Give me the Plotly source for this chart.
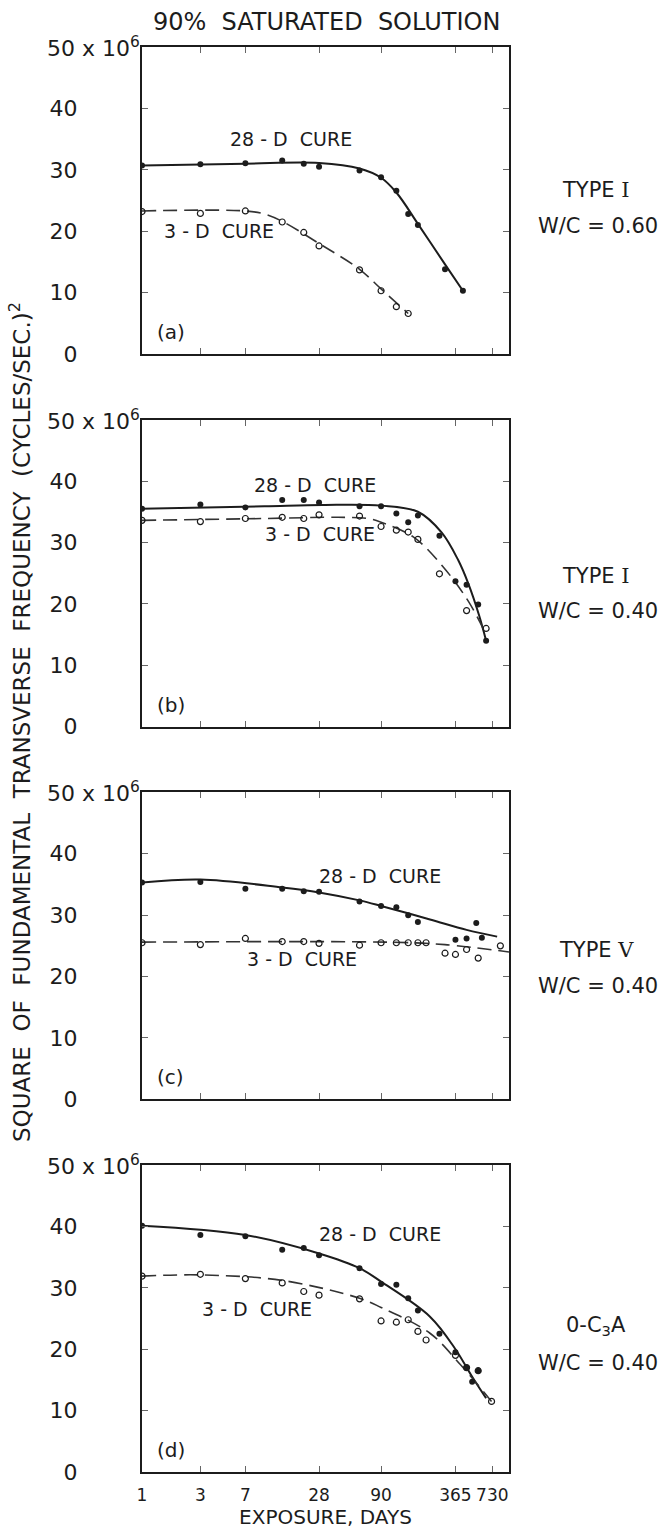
import plotly.graph_objects as go

# ---------------- data ----------------
# panel (a) TYPE I, W/C = 0.60
days_a28 = [1, 3, 7, 14, 21, 28, 60, 90, 120, 150, 180, 300, 420]
vals_a28 = [30.7, 30.9, 31.05, 31.5, 31.0, 30.5, 29.9, 28.8, 26.6, 22.8, 21.0, 13.8, 10.3]
fit_a28_x = [1, 7, 28, 60, 90, 120, 180, 300, 420]
fit_a28_y = [30.7, 31.0, 31.1, 30.2, 28.7, 26.3, 21.2, 14.6, 10.3]
days_a3 = [1, 3, 7, 14, 21, 28, 60, 90, 120, 150]
vals_a3 = [23.2, 22.9, 23.3, 21.5, 19.8, 17.6, 13.7, 10.3, 7.7, 6.6]
fit_a3_x = [1, 7, 10, 14, 28, 60, 90, 150]
fit_a3_y = [23.3, 23.3, 22.8, 21.6, 18.0, 13.8, 10.6, 6.6]

# panel (b) TYPE I, W/C = 0.40
days_b28 = [1, 3, 7, 14, 21, 28, 60, 90, 120, 150, 180, 270, 365, 450, 560, 650]
vals_b28 = [35.5, 36.2, 35.7, 36.9, 36.9, 36.5, 35.9, 35.9, 34.7, 33.3, 34.4, 31.1, 23.7, 23.1, 19.9, 14.0]
fit_b28_x = [1, 10, 30, 90, 180, 282, 385, 465, 570, 650]
fit_b28_y = [35.5, 35.9, 36.1, 36.0, 35.0, 31.6, 27.1, 23.3, 18.1, 14.0]
days_b3 = [1, 3, 7, 14, 21, 28, 60, 90, 120, 150, 180, 270, 450, 650]
vals_b3 = [33.6, 33.4, 33.9, 34.1, 33.9, 34.5, 34.3, 32.6, 32.0, 31.7, 30.5, 24.9, 18.9, 16.0]
fit_b3_x = [1, 10, 40, 70, 90, 165, 282, 466, 650]
fit_b3_y = [33.6, 33.9, 34.1, 33.9, 33.3, 30.9, 26.3, 20.4, 15.0]

# panel (c) TYPE V, W/C = 0.40
days_c28 = [1, 3, 7, 14, 21, 28, 60, 90, 120, 150, 180, 365, 450, 540, 600]
vals_c28 = [35.3, 35.4, 34.3, 34.3, 33.9, 33.8, 32.2, 31.5, 31.3, 30.0, 28.9, 26.0, 26.2, 28.7, 26.3]
fit_c28_x = [1, 3, 14, 28, 60, 90, 226, 450, 800]
fit_c28_y = [35.3, 35.8, 34.5, 33.7, 32.4, 31.5, 29.3, 27.6, 26.5]
days_c3 = [1, 3, 7, 14, 21, 28, 60, 90, 120, 150, 180, 210, 300, 365, 450, 560, 850]
vals_c3 = [25.5, 25.2, 26.2, 25.7, 25.7, 25.4, 25.1, 25.5, 25.5, 25.5, 25.5, 25.5, 23.8, 23.6, 24.4, 23.0, 25.0]
fit_c3_x = [1, 100, 300, 1000]
fit_c3_y = [25.6, 25.6, 25.2, 24.0]

# panel (d) 0-C3A, W/C = 0.40
days_d28 = [1, 3, 7, 14, 21, 28, 60, 90, 120, 150, 180, 270, 365, 450, 500, 560]
vals_d28 = [40.1, 38.6, 38.4, 36.2, 36.5, 35.3, 33.2, 30.6, 30.5, 28.3, 26.3, 22.5, 19.5, 17.0, 14.7, 16.5]
fit_d28_x = [1, 7, 28, 60, 90, 226, 365, 500, 650]
fit_d28_y = [40.1, 38.6, 35.6, 33.2, 31.0, 25.3, 20.0, 15.5, 12.0]
days_d3 = [1, 3, 7, 14, 21, 28, 60, 90, 120, 150, 180, 210, 365, 450, 560, 720]
vals_d3 = [31.9, 32.2, 31.5, 30.8, 29.4, 28.8, 28.2, 24.6, 24.4, 24.8, 22.9, 21.5, 19.0, 17.0, 16.5, 11.5]
fit_d3_x = [1, 3, 14, 60, 90, 226, 400, 720]
fit_d3_y = [31.9, 32.1, 31.2, 28.3, 26.8, 22.6, 17.5, 11.5]

x_tick_vals = [1, 3, 7, 28, 90, 365, 730]
x_tick_text = ["1", "3", "7", "28", "90", "365", "730"]
y_tick_vals = [0, 10, 20, 30, 40]
y_tick_text = ["0", "10", "20", "30", "40"]

panel_letters = ["(a)", "(b)", "(c)", "(d)"]
type_labels = ["TYPE <span style='font-family:DejaVu Serif'>I</span>",
               "TYPE <span style='font-family:DejaVu Serif'>I</span>",
               "TYPE <span style='font-family:DejaVu Serif'>V</span>",
               "0-C<sub>3</sub>A"]
wc_labels = ["W/C = 0.60", "W/C = 0.40", "W/C = 0.40", "W/C = 0.40"]

panels = [
    (days_a28, vals_a28, fit_a28_x, fit_a28_y, days_a3, vals_a3, fit_a3_x, fit_a3_y),
    (days_b28, vals_b28, fit_b28_x, fit_b28_y, days_b3, vals_b3, fit_b3_x, fit_b3_y),
    (days_c28, vals_c28, fit_c28_x, fit_c28_y, days_c3, vals_c3, fit_c3_x, fit_c3_y),
    (days_d28, vals_d28, fit_d28_x, fit_d28_y, days_d3, vals_d3, fit_d3_x, fit_d3_y),
]

# ---------------- layout geometry ----------------
W, H = 671, 1535
L, R, T, B = 142, 162, 47, 63
PW = W - L - R
PH_TOT = H - T - B
PANEL_H = 307
PERIOD = (PH_TOT - PANEL_H) / 3

# label positions (x as fraction of panel width, y in data units)
lbl28 = [(0.406, 35.0), (0.471, 39.4), (0.649, 36.4), (0.649, 38.8)]
lbl3 = [(0.210, 20.0), (0.485, 31.4), (0.436, 22.8), (0.313, 26.6)]
type_y = [26.7, 24.6, 24.3, 23.8]
wc_y = [20.9, 18.8, 18.5, 17.8]

INK = "#1c1c1c"
FONT = "DejaVu Sans"

fig = go.Figure()
layout = dict(
    width=W, height=H,
    margin=dict(l=L, r=R, t=T, b=B),
    paper_bgcolor="white", plot_bgcolor="white",
    showlegend=False,
    font=dict(family=FONT, color=INK, size=20),
)
annotations = []

for i, (d28, v28, f28x, f28y, d3, v3, f3x, f3y) in enumerate(panels):
    n = "" if i == 0 else str(i + 1)
    xa, ya = "x" + n, "y" + n
    top_px = i * PERIOD
    bot_px = top_px + PANEL_H
    dom = [1 - bot_px / PH_TOT, 1 - top_px / PH_TOT]

    # fitted curves
    fig.add_trace(go.Scatter(x=f28x, y=f28y, mode="lines",
                             line=dict(color=INK, width=2, shape="spline", smoothing=1.0),
                             xaxis=xa, yaxis=ya, hoverinfo="skip"))
    fig.add_trace(go.Scatter(x=f3x, y=f3y, mode="lines",
                             line=dict(color="#333333", width=1.6, dash="14px,7px", shape="spline", smoothing=1.0),
                             xaxis=xa, yaxis=ya, hoverinfo="skip"))
    # measured points
    fig.add_trace(go.Scatter(x=d28, y=v28, mode="markers",
                             marker=dict(symbol="circle", size=6, color=INK),
                             xaxis=xa, yaxis=ya, name="28-D CURE"))
    fig.add_trace(go.Scatter(x=d3, y=v3, mode="markers",
                             marker=dict(symbol="circle-open", size=6, color=INK, line=dict(width=1.2)),
                             xaxis=xa, yaxis=ya, name="3-D CURE"))

    xdict = dict(
        type="log", range=[0, 3], domain=[0, 1], anchor=ya,
        tickmode="array", tickvals=x_tick_vals, ticktext=x_tick_text, tickangle=0,
        showticklabels=(i == 3), ticks="inside", ticklen=6, tickwidth=1, tickcolor="#666",
        showline=True, linecolor=INK, linewidth=2, mirror="ticks",
        showgrid=False, zeroline=False,
        tickfont=dict(size=17, family=FONT, color=INK),
        ticklabelstandoff=7,
    )
    if i == 3:
        xdict["title"] = dict(text="EXPOSURE, DAYS", font=dict(size=20, family=FONT, color=INK), standoff=3)
    layout["xaxis" + n] = xdict
    layout["yaxis" + n] = dict(
        range=[0, 50], domain=dom, anchor=xa,
        tickmode="array", tickvals=y_tick_vals, ticktext=y_tick_text,
        ticks="inside", ticklen=6, tickwidth=1, tickcolor="#666",
        showline=True, linecolor=INK, linewidth=2, mirror="ticks",
        showgrid=False, zeroline=False,
        tickfont=dict(size=22, family=FONT, color=INK),
        ticklabelstandoff=58,
    )

    # 50 x 10^6 label
    annotations.append(dict(text="50 x 10<sup>6</sup>", xref="paper", yref=ya, x=(45 - L) / PW, y=50,
                            xanchor="left", yanchor="middle", showarrow=False,
                            font=dict(size=22, family=FONT, color=INK)))
    # panel letter
    annotations.append(dict(text=panel_letters[i], xref=xa + " domain", yref=ya, x=0.079, y=3.6,
                            xanchor="center", yanchor="middle", showarrow=False,
                            font=dict(size=20, family=FONT, color=INK)))
    # curve labels
    annotations.append(dict(text="28 - D  CURE", xref=xa + " domain", yref=ya, x=lbl28[i][0], y=lbl28[i][1],
                            xanchor="center", yanchor="middle", showarrow=False,
                            font=dict(size=19, family=FONT, color=INK)))
    annotations.append(dict(text="3 - D  CURE", xref=xa + " domain", yref=ya, x=lbl3[i][0], y=lbl3[i][1],
                            xanchor="center", yanchor="middle", showarrow=False,
                            font=dict(size=19, family=FONT, color=INK)))
    # right-hand labels
    annotations.append(dict(text=type_labels[i], xref="paper", yref=ya, x=(596 - L) / PW, y=type_y[i],
                            xanchor="center", yanchor="middle", showarrow=False,
                            font=dict(size=21, family=FONT, color=INK)))
    annotations.append(dict(text=wc_labels[i], xref="paper", yref=ya, x=(598 - L) / PW, y=wc_y[i],
                            xanchor="center", yanchor="middle", showarrow=False,
                            font=dict(size=21, family=FONT, color=INK)))

# title and y-axis title
annotations.append(dict(text="90%  SATURATED  SOLUTION", xref="paper", yref="paper",
                        x=(326 - L) / PW, y=1 + (T - 22) / PH_TOT, xanchor="center", yanchor="middle",
                        showarrow=False, font=dict(size=24, family=FONT, color=INK)))
annotations.append(dict(text="SQUARE  OF  FUNDAMENTAL  TRANSVERSE  FREQUENCY  (CYCLES/SEC.)<sup>2</sup>",
                        xref="paper", yref="paper", x=(20 - L) / PW, y=1 - (722 - T) / PH_TOT,
                        xanchor="center", yanchor="middle", textangle=-90, showarrow=False,
                        font=dict(size=23, family=FONT, color=INK)))

layout["annotations"] = annotations
fig.update_layout(**layout)
fig.write_html("out.html")
